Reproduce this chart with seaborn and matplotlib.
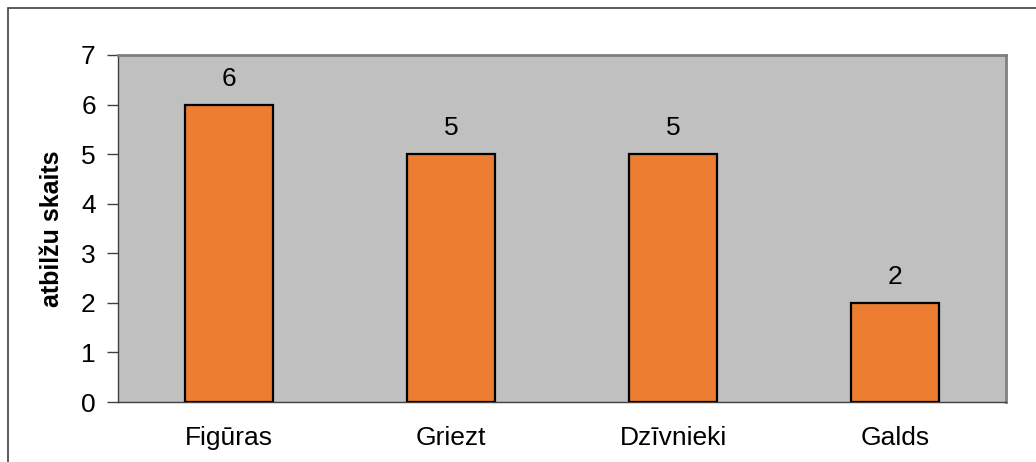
import matplotlib
matplotlib.use("Agg")
import matplotlib.pyplot as plt
import seaborn as sns
from matplotlib.patches import Rectangle

categories = ["Figūras", "Griezt", "Dzīvnieki", "Galds"]
values = [6, 5, 5, 2]
y_ticks = [0, 1, 2, 3, 4, 5, 6, 7]
y_label = "atbilžu skaits"

sns.set_theme(style="white")
plt.rcParams['font.family'] = ['Liberation Sans', 'DejaVu Sans']
plt.rcParams['text.color'] = 'black'
plt.rcParams['axes.labelcolor'] = 'black'
plt.rcParams['xtick.color'] = 'black'
plt.rcParams['ytick.color'] = 'black'

W, H = 1036, 462
fig = plt.figure(figsize=(W / 100, H / 100), dpi=100)
fig.patch.set_facecolor("white")

# outer chart frame (only top and left visible)
fig.patches.append(Rectangle((8 / W, -0.1), 1.2, (H - 8) / H + 0.1, transform=fig.transFigure,
                             fill=False, edgecolor="#404040", linewidth=1.2, zorder=0))

ax = fig.add_axes([118 / W, (H - 402) / H, (1006 - 118) / W, (402 - 55) / H])
ax.set_facecolor("#C0C0C0")

sns.barplot(x=categories, y=values, color="#ED7D31", width=0.4, edgecolor="black",
            linewidth=1.6, saturation=1, ax=ax, zorder=3)
for p in ax.patches:
    p.set_facecolor("#ED7D31")

FS = 19
ax.set_ylim(0, 7)
ax.set_xlim(-0.5, len(categories) - 0.5)
ax.set_yticks(y_ticks)
ax.set_yticklabels([str(t) for t in y_ticks], fontsize=FS, color="black")
ax.set_xticks(range(len(categories)))
ax.set_xticklabels(categories, fontsize=FS, color="black")
ax.tick_params(axis="x", which="major", length=0, pad=17)
ax.set_xticks([i - 0.5 for i in range(len(categories) + 1)], minor=True)
ax.tick_params(axis="x", which="minor", length=8, width=1, color="#404040", direction="out")
ax.tick_params(axis="y", which="major", length=8, width=1, color="#404040", direction="out", pad=8, left=True)

ax.set_ylabel(y_label, fontsize=18, fontweight="bold", labelpad=12, color="black")
ax.set_xlabel("")

for name, sp in ax.spines.items():
    sp.set_visible(True)
ax.spines["left"].set_color("#404040")
ax.spines["left"].set_linewidth(1)
ax.spines["bottom"].set_color("#404040")
ax.spines["bottom"].set_linewidth(1)
ax.spines["top"].set_color("#808080")
ax.spines["top"].set_linewidth(2)
ax.spines["right"].set_color("#808080")
ax.spines["right"].set_linewidth(2)

for c in ax.containers:
    ax.bar_label(c, labels=[str(v) for v in values], padding=10, fontsize=FS, color="black")

fig.savefig("out.png", dpi=100, facecolor="white")
